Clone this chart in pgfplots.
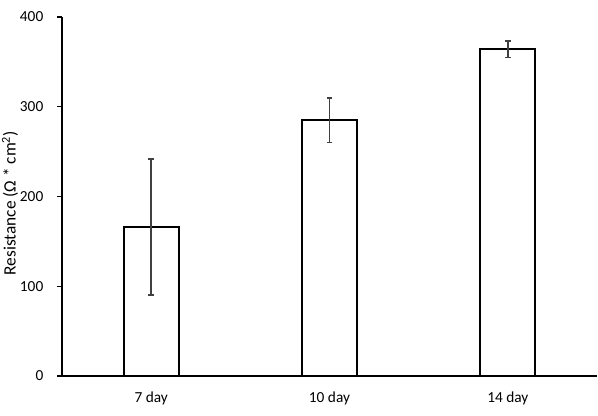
\documentclass[border=0pt]{standalone}
\usepackage{pgfplots}
\pgfplotsset{compat=1.18}
\usepackage{fontspec}
\setmainfont{Carlito}

\definecolor{errgray}{HTML}{404040}

\begin{document}
\begin{tikzpicture}
\path[use as bounding box] (-46.5pt,-29.25pt) rectangle (402pt,282pt);
\begin{axis}[
    at={(0,0)}, anchor=south west,
    scale only axis,
    width=401.25pt, height=269.25pt,
    xmin=-0.5, xmax=2.5,
    ymin=0, ymax=400,
    ytick={0,100,...,400},
    xtick=data,
    xticklabels={7 day,10 day,14 day},
    axis x line=bottom,
    axis y line=left,
    axis line style={line width=1pt, -},
    x tick style={draw=none},
    y tick style={line width=1pt, black},
    tick align=outside,
    major tick length=3.5pt,
    ylabel={Resistance (Ω * cm\textsuperscript{2})},
    ylabel style={font=\fontsize{13pt}{15pt}\selectfont, at={(axis description cs:0,0.5)}, anchor=center, yshift=39pt, xshift=-5pt},
    tick label style={font=\fontsize{11.5pt}{13pt}\selectfont},
    yticklabel style={xshift=-7pt},
    xticklabel style={yshift=-5pt},
    /pgf/number format/assume math mode=true,
    ]
\addplot[
    ybar, bar width=41.25pt,
    draw=black, line width=1.5pt, fill=white,
    error bars/.cd,
    y dir=both, y explicit,
    error bar style={line width=1.1pt, errgray},
    error mark options={rotate=90, mark size=2.2pt, line width=1.2pt, errgray},
] coordinates {
    (0,166) +- (0,76)
    (1,285) +- (0,25)
    (2,364) +- (0,9)
};
\end{axis}
\end{tikzpicture}
\end{document}
